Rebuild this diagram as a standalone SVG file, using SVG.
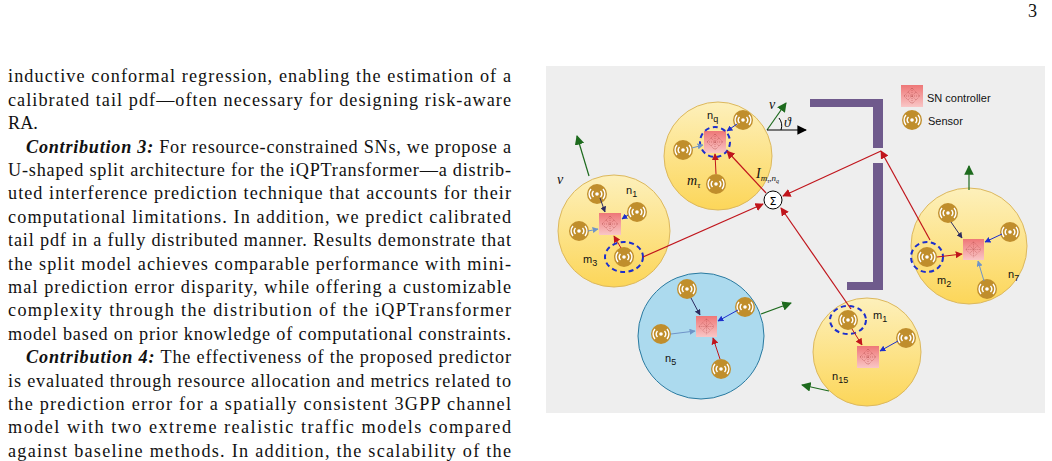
<svg xmlns="http://www.w3.org/2000/svg" width="1052" height="461" viewBox="0 0 1052 461">
<style>
.t{font-family:"Liberation Serif",serif;font-size:18.2px;fill:#111}
.s{font-family:"Liberation Sans",sans-serif;font-size:11px;fill:#111}
.m{font-family:"Liberation Serif",serif;font-style:italic;font-size:14px;fill:#111}
.y{fill:url(#yg);stroke:#dcb85e;stroke-width:1}
.r{stroke:#c0151c;stroke-width:1.2;fill:none}
.d{fill:none;stroke:#1d2fcc;stroke-width:2;stroke-dasharray:5 3.5}
.w{fill:#6f5a8c}
</style>
<defs>
<linearGradient id="yg" x1="0" y1="0" x2="0" y2="1"><stop offset="0" stop-color="#fdf0bb"/><stop offset="1" stop-color="#fcd659"/></linearGradient>
<linearGradient id="cg" x1="0" y1="0" x2="0" y2="1"><stop offset="0" stop-color="#ee7777"/><stop offset="1" stop-color="#f9c6c6"/></linearGradient>
<symbol id="sen" viewBox="-10 -10 20 20" overflow="visible">
<circle r="10" fill="#c08e2c"/>
<circle r="1.8" fill="#fff"/>
<path d="M-3.5,-3 A4.5,4.5 0 0 0 -3.5,3 M3.5,-3 A4.5,4.5 0 0 1 3.5,3 M-6,-5 A7.5,7.5 0 0 0 -6,5 M6,-5 A7.5,7.5 0 0 1 6,5" stroke="#fff" stroke-width="1.4" fill="none"/>
</symbol>
<symbol id="ctl" viewBox="0 0 22 22" overflow="visible">
<rect width="22" height="22" fill="url(#cg)"/>
<path d="M11,3 L19,11 L11,19 L3,11 Z M11,3 V19 M3,11 H19 M7,7 L15,15 M15,7 L7,15" stroke="#b04a4a" stroke-width="0.5" fill="none" stroke-dasharray="1 1"/>
</symbol>
<marker id="ar" viewBox="0 0 10 10" refX="9" refY="5" markerWidth="7" markerHeight="7" orient="auto"><path d="M0,0 L10,5 L0,10 Z" fill="#c0151c"/></marker>
<marker id="ab" viewBox="0 0 10 10" refX="9" refY="5" markerWidth="6" markerHeight="6" orient="auto"><path d="M0,0 L10,5 L0,10 Z" fill="#1d2fcc"/></marker>
<marker id="an" viewBox="0 0 10 10" refX="9" refY="5" markerWidth="6" markerHeight="6" orient="auto"><path d="M0,0 L10,5 L0,10 Z" fill="#2c2c60"/></marker>
<marker id="al" viewBox="0 0 10 10" refX="9" refY="5" markerWidth="6" markerHeight="6" orient="auto"><path d="M0,0 L10,5 L0,10 Z" fill="#6f94c8"/></marker>
<marker id="ag" viewBox="0 0 10 10" refX="9" refY="5" markerWidth="8" markerHeight="8" orient="auto"><path d="M0,0 L10,5 L0,10 Z" fill="#1d6a1d"/></marker>
<marker id="ak" viewBox="0 0 10 10" refX="9" refY="5" markerWidth="8" markerHeight="8" orient="auto"><path d="M0,0 L10,5 L0,10 Z" fill="#000"/></marker>
</defs>
<rect width="1052" height="461" fill="#fff"/>
<text x="1028" y="17" class="t" font-size="12">3</text>
<g id="bodytext">
<text class="t" x="8" y="82" textLength="503" lengthAdjust="spacing">inductive conformal regression, enabling the estimation of a</text>
<text class="t" x="8" y="106" textLength="503" lengthAdjust="spacing">calibrated tail pdf—often necessary for designing risk-aware</text>
<text class="t" x="8" y="129">RA.</text>
<text class="t" x="26" y="153" textLength="485" lengthAdjust="spacing"><tspan font-style="italic" font-weight="bold">Contribution 3:</tspan> For resource-constrained SNs, we propose a</text>
<text class="t" x="8" y="176" textLength="503" lengthAdjust="spacing">U-shaped split architecture for the iQPTransformer—a distrib-</text>
<text class="t" x="8" y="199" textLength="503" lengthAdjust="spacing">uted interference prediction technique that accounts for their</text>
<text class="t" x="8" y="223" textLength="503" lengthAdjust="spacing">computational limitations. In addition, we predict calibrated</text>
<text class="t" x="8" y="246" textLength="503" lengthAdjust="spacing">tail pdf in a fully distributed manner. Results demonstrate that</text>
<text class="t" x="8" y="270" textLength="503" lengthAdjust="spacing">the split model achieves comparable performance with mini-</text>
<text class="t" x="8" y="293" textLength="503" lengthAdjust="spacing">mal prediction error disparity, while offering a customizable</text>
<text class="t" x="8" y="316" textLength="503" lengthAdjust="spacing">complexity through the distribution of the iQPTransformer</text>
<text class="t" x="8" y="340" textLength="503" lengthAdjust="spacing">model based on prior knowledge of computational constraints.</text>
<text class="t" x="26" y="363" textLength="485" lengthAdjust="spacing"><tspan font-style="italic" font-weight="bold">Contribution 4:</tspan> The effectiveness of the proposed predictor</text>
<text class="t" x="8" y="387" textLength="503" lengthAdjust="spacing">is evaluated through resource allocation and metrics related to</text>
<text class="t" x="8" y="410" textLength="503" lengthAdjust="spacing">the prediction error for a spatially consistent 3GPP channel</text>
<text class="t" x="8" y="433" textLength="503" lengthAdjust="spacing">model with two extreme realistic traffic models compared</text>
<text class="t" x="8" y="457" textLength="503" lengthAdjust="spacing">against baseline methods. In addition, the scalability of the</text>
</g>
<rect x="546" y="66" width="499" height="347" fill="#eeeeee"/>
<g id="walls">
<path class="w" d="M810,99 H883 V148 H873 V107 H810 Z"/>
<path class="w" d="M873,163 H883 V290 H847 V282 H873 Z"/>
</g>
<g id="legend">
<use href="#ctl" x="901" y="85" width="22" height="22"/>
<text class="s" x="927" y="102">SN controller</text>
<use href="#sen" x="902" y="110" width="20" height="20"/>
<text class="s" x="928" y="125">Sensor</text>
</g>
<g id="n1">
<circle class="y" cx="614" cy="231" r="56"/>
<use href="#ctl" x="599" y="213" width="22" height="22"/>
<use href="#sen" x="587" y="184" width="20" height="20"/>
<use href="#sen" x="627" y="202" width="20" height="20"/>
<use href="#sen" x="569" y="221" width="20" height="20"/>
<use href="#sen" x="614" y="247" width="20" height="20"/>
<ellipse class="d" cx="624" cy="257" rx="19" ry="15"/>
<text class="s" x="626" y="194" font-size="12">n<tspan font-size="9" dy="3">1</tspan></text>
<text class="s" x="583" y="263" font-size="12">m<tspan font-size="9" dy="3">3</tspan></text>
<line x1="600" y1="198" x2="605" y2="212" stroke="#2c2c60" marker-end="url(#an)"/>
<line x1="628" y1="215" x2="622" y2="219" stroke="#1d2fcc" marker-end="url(#ab)"/>
<line x1="588" y1="231" x2="598" y2="229" stroke="#6f94c8" marker-end="url(#al)"/>
<line x1="621" y1="248" x2="614" y2="236" stroke="#c0151c" marker-end="url(#ar)"/>
</g>
<g id="nq">
<circle class="y" cx="718" cy="156" r="54"/>
<use href="#ctl" x="704" y="131" width="22" height="22"/>
<ellipse class="d" cx="715" cy="142" rx="15" ry="15"/>
<use href="#sen" x="733" y="110" width="20" height="20"/>
<use href="#sen" x="673" y="140" width="20" height="20"/>
<use href="#sen" x="706" y="174" width="20" height="20"/>
<text class="s" x="707" y="119" font-size="12">n<tspan font-size="9" dy="3">q</tspan></text>
<text class="m" x="687" y="185">m<tspan font-size="9" dy="3">τ</tspan></text>
<line x1="737" y1="124" x2="727" y2="131" stroke="#1d2fcc" marker-end="url(#ab)"/>
<line x1="692" y1="148" x2="703" y2="145" stroke="#6f94c8" marker-end="url(#al)"/>
<line x1="716" y1="174" x2="715" y2="154" stroke="#c0151c" marker-end="url(#ar)"/>
</g>
<g id="n7">
<circle class="y" cx="969" cy="246" r="58"/>
<use href="#ctl" x="963" y="239" width="21" height="21"/>
<use href="#sen" x="938" y="203" width="20" height="20"/>
<use href="#sen" x="1000" y="222" width="20" height="20"/>
<use href="#sen" x="977" y="279" width="20" height="20"/>
<use href="#sen" x="917" y="247" width="20" height="20"/>
<ellipse class="d" cx="927" cy="257" rx="16" ry="15"/>
<text class="s" x="937" y="284" font-size="12">m<tspan font-size="9" dy="3">2</tspan></text>
<text class="s" x="1008" y="278" font-size="12">n<tspan font-size="9" dy="3">7</tspan></text>
<line x1="951" y1="222" x2="962" y2="238" stroke="#2c2c60" marker-end="url(#an)"/>
<line x1="1002" y1="234" x2="985" y2="242" stroke="#1d2fcc" marker-end="url(#ab)"/>
<line x1="984" y1="281" x2="978" y2="261" stroke="#6f94c8" marker-end="url(#al)"/>
<line x1="937" y1="257" x2="962" y2="254" stroke="#c0151c" marker-end="url(#ar)"/>
</g>
<g id="n5">
<circle cx="701" cy="336" r="63" fill="#acdaee" stroke="#2a7aa0"/>
<use href="#ctl" x="696" y="316" width="21" height="21"/>
<use href="#sen" x="677" y="279" width="20" height="20"/>
<use href="#sen" x="735" y="297" width="20" height="20"/>
<use href="#sen" x="651" y="324" width="20" height="20"/>
<use href="#sen" x="711" y="359" width="20" height="20"/>
<text class="s" x="665" y="362" font-size="12">n<tspan font-size="9" dy="3">5</tspan></text>
<line x1="691" y1="298" x2="700" y2="315" stroke="#2c2c60" marker-end="url(#an)"/>
<line x1="738" y1="310" x2="718" y2="321" stroke="#1d2fcc" marker-end="url(#ab)"/>
<line x1="671" y1="334" x2="695" y2="331" stroke="#6f94c8" marker-end="url(#al)"/>
<line x1="720" y1="359" x2="713" y2="338" stroke="#c0151c" marker-end="url(#ar)"/>
</g>
<g id="n15">
<circle class="y" cx="867" cy="352" r="54"/>
<use href="#ctl" x="857" y="346" width="22" height="22"/>
<use href="#sen" x="838" y="310" width="20" height="20"/>
<use href="#sen" x="896" y="328" width="20" height="20"/>
<ellipse class="d" cx="848" cy="320" rx="18" ry="14"/>
<text class="s" x="873" y="319" font-size="12">m<tspan font-size="9" dy="3">1</tspan></text>
<text class="s" x="832" y="380" font-size="12">n<tspan font-size="9" dy="3">15</tspan></text>
<line x1="898" y1="341" x2="880" y2="351" stroke="#1d2fcc" marker-end="url(#ab)"/>
<line x1="852" y1="329" x2="862" y2="345" stroke="#c0151c" marker-end="url(#ar)"/>
</g>
<g id="sum">
<circle cx="773" cy="200" r="9" fill="#fff" stroke="#000" stroke-width="1"/>
<text x="773" y="204.5" text-anchor="middle" font-family="DejaVu Sans,sans-serif" font-size="11">Σ</text>
<text class="m" x="756" y="178" font-size="15">I<tspan font-size="9" dy="3">m<tspan font-size="6" dy="2">τ</tspan><tspan dy="-2">,n</tspan><tspan font-size="6" dy="2">q</tspan></tspan></text>
</g>
<g id="connectors">
<line class="r" x1="643" y1="257" x2="763" y2="204" marker-end="url(#ar)"/>
<line class="r" x1="766" y1="193" x2="727" y2="151" marker-end="url(#ar)"/>
<line class="r" x1="930" y1="240" x2="881" y2="151" marker-end="url(#ar)"/>
<line class="r" x1="881" y1="151" x2="783" y2="196" marker-end="url(#ar)"/>
<line class="r" x1="851" y1="309" x2="781" y2="208" marker-end="url(#ar)"/>
<line x1="589" y1="176" x2="577" y2="136" stroke="#1d6a1d" stroke-width="1.2" marker-end="url(#ag)"/>
<text class="m" x="557" y="184">v</text>
<line x1="767" y1="130" x2="786" y2="103" stroke="#1d6a1d" stroke-width="1.2" marker-end="url(#ag)"/>
<line x1="767" y1="130" x2="806" y2="130" stroke="#000" stroke-width="1.2" marker-end="url(#ak)"/>
<path d="M779,118 A13,13 0 0 1 781,130" fill="none" stroke="#000"/>
<text class="m" x="769" y="109">v</text>
<text class="m" x="784" y="127">ϑ</text>
<line x1="969" y1="190" x2="969" y2="166" stroke="#1d6a1d" stroke-width="1.2" marker-end="url(#ag)"/>
<line x1="761" y1="314" x2="791" y2="303" stroke="#1d6a1d" stroke-width="1.2" marker-end="url(#ag)"/>
<line x1="829" y1="391" x2="802" y2="385" stroke="#1d6a1d" stroke-width="1.2" marker-end="url(#ag)"/>
</g>
</svg>
